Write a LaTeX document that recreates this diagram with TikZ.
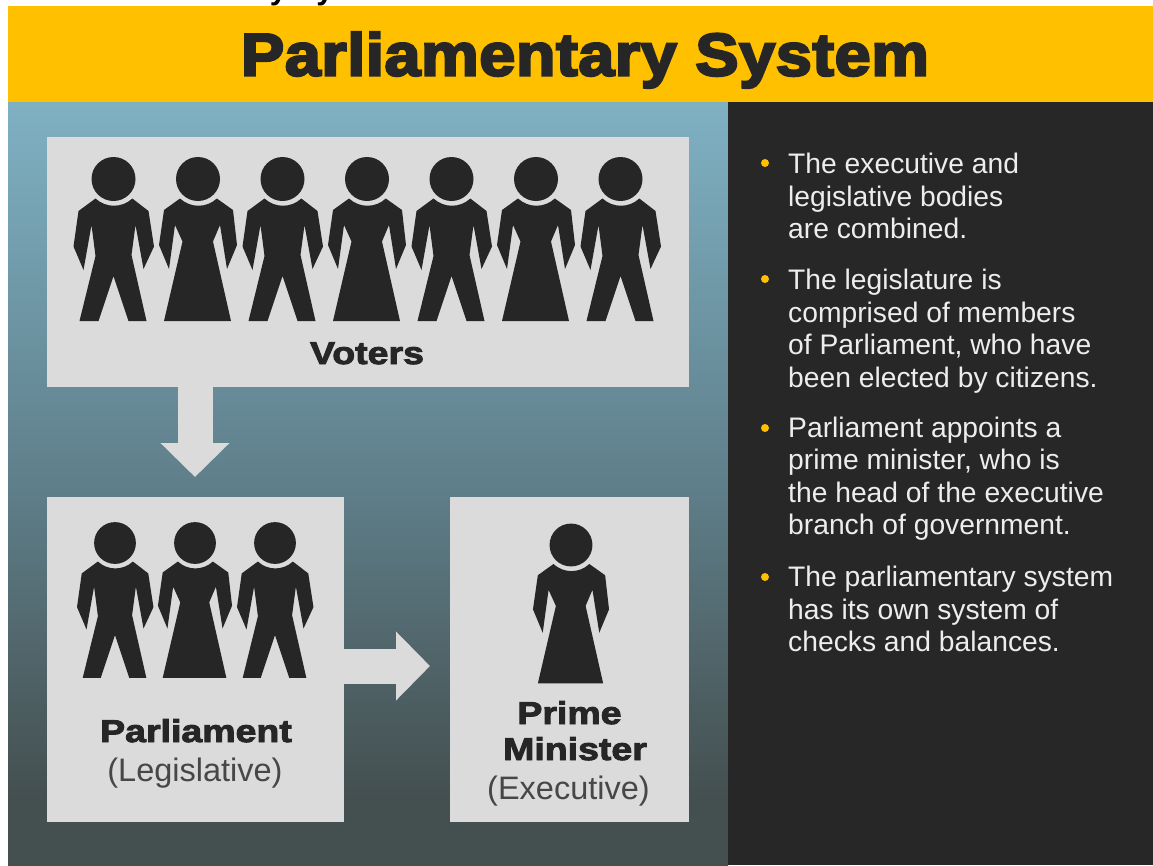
\documentclass[tikz,border=0pt]{standalone}
\usepackage{fontspec}
\setmainfont{Liberation Sans}
\newfontfamily\heavyfont[FakeBold=4,FakeStretch=1.08,LetterSpace=1]{Liberation Sans Bold}
\newfontfamily\labelfont[FakeBold=3,FakeStretch=1.19]{Liberation Sans Bold}
\usetikzlibrary{arrows.meta}
\definecolor{bar}{HTML}{FFC000}
\definecolor{ink}{HTML}{262626}
\definecolor{panelc}{HTML}{272727}
\definecolor{boxc}{HTML}{DBDBDB}
\definecolor{bgtop}{HTML}{7FB1C3}
\definecolor{bgmid}{HTML}{5F7F8A}
\definecolor{bgbot}{HTML}{444F4F}
\definecolor{bodytext}{HTML}{EDEDED}
\pgfdeclareverticalshading{bggrad}{100bp}{color(0bp)=(bgbot); color(29.3bp)=(bgbot); color(50bp)=(bgmid); color(75bp)=(bgtop); color(100bp)=(bgtop)}
\tikzset{
  panelbox/.style={fill=boxc,draw=none,inner sep=0pt,minimum width=#1},
  blockarrow/.style={draw=boxc,line width=35pt,-{Triangle[length=34pt,width=67pt,fill=boxc]},shorten >=20pt},
  bullettext/.style={anchor=north west,inner sep=0pt,align=left,text=bodytext,font=\fontsize{28.25}{32.5}\selectfont},
  bulletdot/.style={circle,fill=bar,inner sep=0pt,minimum size=8pt},
  boldlabel/.style={inner sep=0pt,text=ink,align=center,font=\labelfont\fontsize{31.5}{36}\selectfont},
  plainlabel/.style={inner sep=0pt,text=ink!85,align=center,font=\fontsize{32.5}{36}\selectfont},
}
% head centre at (#1,#2), scale #3
\newcommand{\manfig}[3]{%
  \begin{scope}[shift={(#1,#2)},scale=#3,fill=ink]
    \fill (0,0) circle (22);
    \fill (-18,19.5) arc[start angle=133,end angle=47,radius=27] -- (35,32) -- (40.5,67.5) -- (30,90) -- (22,46) -- (18,76) -- (33,142) -- (15,142) -- (0,97) -- (-15,142) -- (-34,142) -- (-18,77) -- (-22,46) -- (-30,91) -- (-40,67.5) -- (-35,32) -- cycle;
  \end{scope}}
\newcommand{\womanfig}[3]{%
  \begin{scope}[shift={(#1,#2)},scale=#3,fill=ink]
    \fill (0,0) circle (22);
    \fill (-18,19.5) arc[start angle=133,end angle=47,radius=27] -- (35,31) -- (39,66) -- (29,90) -- (22,46) -- (15,62.5) -- (33,142) -- (-34,142) -- (-15.5,62.5) -- (-23,46) -- (-29,90) -- (-39,66) -- (-34,31) -- cycle;
  \end{scope}}
\begin{document}
\begin{tikzpicture}[x=1pt,y=-1pt]
\useasboundingbox (0,0) rectangle (1153,865);
\fill[white] (0,0) rectangle (1153,865);
% clipped line of text at the very top
\begin{scope}
  \clip (0,0) rectangle (1153,6);
  \node[anchor=base,inner sep=0pt,text=black,font=\bfseries\fontsize{31}{31}\selectfont] (oldtitle) at (244,-1) {Parliamentary System};
\end{scope}
% backgrounds
\shade[shading=bggrad] (8,102) rectangle (728,865);
\fill[panelc] (728,102) rectangle (1153,865);
\fill[bar] (8,6) rectangle (1153,102);
\node[text=ink,inner sep=0pt,anchor=base,font=\heavyfont\fontsize{60}{60}\selectfont] (title) at (585,75.5) {Parliamentary System};
% boxes
\node[panelbox=642pt,minimum height=250pt,anchor=north west] (voters) at (47,137) {};
\node[panelbox=297pt,minimum height=325pt,anchor=north west] (parl) at (47,497) {};
\node[panelbox=239pt,minimum height=325pt,anchor=north west] (pm) at (450,497) {};
% connectors
\coordinate (downx) at (195,0);
\coordinate (righty) at (0,666);
\draw[blockarrow] (voters.south -| downx) -- (parl.north -| downx);
\draw[blockarrow] (parl.east |- righty) -- (pm.west |- righty);
% people
\manfig{113.5}{179}{1}
\womanfig{198}{179}{1}
\manfig{282.5}{179}{1}
\womanfig{367}{179}{1}
\manfig{451.5}{179}{1}
\womanfig{536}{179}{1}
\manfig{620.5}{179}{1}
\manfig{115}{543}{.95}
\womanfig{195}{543}{.95}
\manfig{275}{543}{.95}
\womanfig{571}{545}{.975}
% labels
\node[boldlabel,anchor=base] (vlabel) at (367,364) {Voters};
\node[boldlabel,anchor=base] (plabel) at (196,742) {Parliament};
\node[plainlabel,anchor=base] (plegis) at (195,781) {(Legislative)};
\node[boldlabel,anchor=base] (prime) at (569.5,724) {Prime};
\node[boldlabel,anchor=base] (minister) at (575,760) {Minister};
\node[plainlabel,anchor=base] (pexec) at (568.5,799) {(Executive)};
% bullets
\node[bullettext] (b1) at (788,153) {The executive and\\legislative bodies\\are combined.};
\node[bullettext] (b2) at (788,269) {The legislature is\\comprised of members\\of Parliament, who have\\been elected by citizens.};
\node[bullettext] (b3) at (788,416.5) {Parliament appoints a\\prime minister, who is\\the head of the executive\\branch of government.};
\node[bullettext] (b4) at (788,566) {The parliamentary system\\has its own system of\\checks and balances.};
\node[bulletdot] (d1) at (765,163) {};
\node[bulletdot] (d2) at (765,279) {};
\node[bulletdot] (d3) at (765,428) {};
\node[bulletdot] (d4) at (765,577) {};
\end{tikzpicture}
\end{document}
